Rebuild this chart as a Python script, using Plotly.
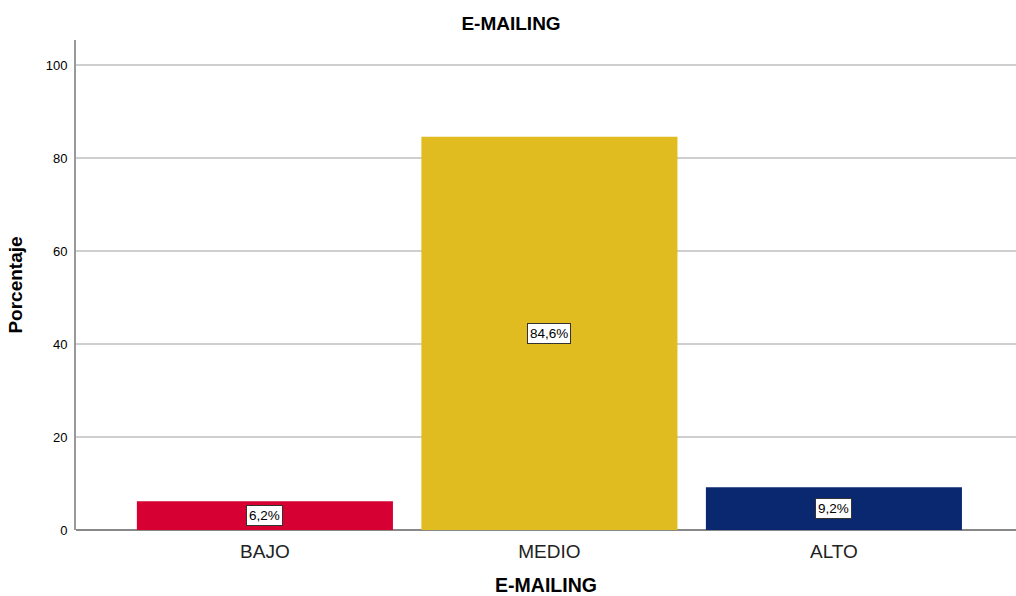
import plotly.graph_objects as go

categories = ["BAJO", "MEDIO", "ALTO"]
values = [6.2, 84.6, 9.2]
labels = ["6,2%", "84,6%", "9,2%"]
colors = ["#D70032", "#E0BC20", "#0A2870"]

fig = go.Figure()
fig.add_trace(go.Bar(
    x=list(range(len(categories))), y=values,
    marker=dict(color=colors, line=dict(width=0)),
    width=0.9, hoverinfo="skip",
))

for i, (v, lab) in enumerate(zip(values, labels)):
    fig.add_annotation(
        x=i, y=v / 2, text=lab, showarrow=False,
        font=dict(family="Arial, Liberation Sans", size=13.5, color="#000"),
        bgcolor="white", bordercolor="#333", borderwidth=1, borderpad=2,
    )

fig.update_layout(
    width=1016, height=596,
    margin=dict(l=76, r=0, t=40, b=66),
    plot_bgcolor="white", paper_bgcolor="white",
    showlegend=False,
    title=dict(text="<b>E-MAILING</b>", x=0.503, xanchor="center", y=0.96, yanchor="middle",
               font=dict(family="Arial, Liberation Sans", size=19, color="#000")),
    font=dict(family="Arial, Liberation Sans", color="#000"),
)
fig.update_xaxes(
    range=[-0.664, 2.64], tickvals=list(range(len(categories))), ticktext=categories,
    tickfont=dict(size=19, color="#222"), showgrid=False, zeroline=False,
    showline=False, ticks="", ticklabelstandoff=8, automargin=False,
    title=dict(text="<b>E-MAILING</b>", font=dict(size=19.5, color="#000"), standoff=24),
)
fig.update_yaxes(
    range=[0, 105.4], tickvals=[0, 20, 40, 60, 80, 100],
    tickfont=dict(size=13, color="#000"), showgrid=True, gridcolor="#CFCFCF", gridwidth=2,
    zeroline=True, zerolinecolor="#888", zerolinewidth=2, automargin=False,
    showline=True, linecolor="#999", linewidth=2, ticks="", ticklen=0, ticklabelstandoff=4,
    title=dict(text="<b>Porcentaje</b>", font=dict(size=19, color="#000"), standoff=18),
)

fig.write_html("out.html")
